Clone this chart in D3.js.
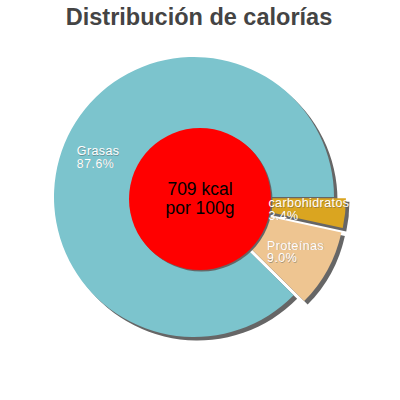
<!DOCTYPE html>
<html>
<head>
<meta charset="utf-8">
<script src="https://cdn.jsdelivr.net/npm/d3@7"></script>
<style>
  body { margin: 0; background: #fff; }
  svg { font-family: "Liberation Sans", Arial, sans-serif; }
</style>
</head>
<body>
<script>
// chart data
var categories = ['carbohidratos', 'Proteínas', 'Grasas'];
var percents = [3.4, 9.0, 87.6];
var exploded = [true, true, false];
var colors = ['#daa520', '#eec591', '#7cc4cd'];
var title = 'Distribución de calorías';
var centerLines = ['709 kcal', 'por 100g'];

var width = 400, height = 400;
var cx = 194, cy = 197, radius = 140, holeR = 71;
var explodeDist = 12;

var svg = d3.select('body').append('svg')
  .attr('width', width)
  .attr('height', height);

svg.append('text')
  .attr('x', 199)
  .attr('y', 25)
  .attr('text-anchor', 'middle')
  .attr('font-size', 23.5)
  .attr('font-weight', 'bold')
  .attr('fill', '#444')
  .text(title);

var data = categories.map(function(c, i) {
  return { name: c, value: percents[i], exploded: exploded[i], color: colors[i] };
});

// start at 3 o'clock, go clockwise
var pie = d3.pie()
  .sort(null)
  .value(function(d) { return d.value; })
  .startAngle(Math.PI / 2)
  .endAngle(Math.PI / 2 + 2 * Math.PI);

var arc = d3.arc().innerRadius(0).outerRadius(radius);
var arcs = pie(data);

function offset(d) {
  if (!d.data.exploded) return [0, 0];
  var a = (d.startAngle + d.endAngle) / 2;
  return [Math.sin(a) * explodeDist, -Math.cos(a) * explodeDist];
}

var g = svg.append('g').attr('transform', 'translate(' + cx + ',' + cy + ')');

// shadows
g.selectAll('path.shadow')
  .data(arcs)
  .enter()
  .append('path')
  .attr('class', 'shadow')
  .attr('fill', '#666')
  .attr('transform', function(d) {
    var o = offset(d);
    return 'translate(' + (o[0] + 3.5) + ',' + (o[1] + 3.5) + ')';
  })
  .attr('d', arc);

g.selectAll('path.slice')
  .data(arcs)
  .enter()
  .append('path')
  .attr('class', 'slice')
  .attr('fill', function(d) { return d.data.color; })
  .attr('transform', function(d) { return 'translate(' + offset(d) + ')'; })
  .attr('d', arc);

// center circle
g.append('circle')
  .attr('cx', 7.5).attr('cy', 3.5)
  .attr('r', holeR)
  .attr('fill', '#666');
g.append('circle')
  .attr('cx', 6).attr('cy', 2)
  .attr('r', holeR)
  .attr('fill', '#ff0000');

// two separate lines of centre text
g.selectAll('text.center')
  .data(centerLines)
  .enter()
  .append('text')
  .attr('class', 'center')
  .attr('x', 6)
  .attr('y', function(d, i) { return -2 + i * 18.5; })
  .attr('text-anchor', 'middle')
  .attr('font-size', 17.5)
  .attr('fill', '#000')
  .text(function(d) { return d; });

// labels: block centred at mid-angle, lines left-aligned
var labelR = radius * 0.74;
var labels = g.selectAll('g.label')
  .data(arcs)
  .enter()
  .append('g')
  .attr('class', 'label');

labels.each(function(d) {
  var lg = d3.select(this);
  var lines = [d.data.name, d.data.value.toFixed(1) + '%'];
  lg.selectAll('text')
    .data(lines)
    .enter()
    .append('text')
    .attr('x', 0)
    .attr('y', function(l, i) { return i * 12.5; })
    .attr('font-size', 12.5)
    .attr('letter-spacing', 0.4)
    .attr('fill', '#fff')
    .style('text-shadow', '0.5px 0.5px 0.5px rgba(90,90,90,0.5)')
    .text(function(l) { return l; });
  var bb = lg.node().getBBox();
  var a = (d.startAngle + d.endAngle) / 2;
  var o = offset(d);
  var px = Math.sin(a) * labelR + o[0];
  var py = -Math.cos(a) * labelR + o[1];
  lg.attr('transform', 'translate(' + (px - bb.x - bb.width / 2) + ',' + (py - bb.y - bb.height / 2) + ')');
});
</script>
</body>
</html>
